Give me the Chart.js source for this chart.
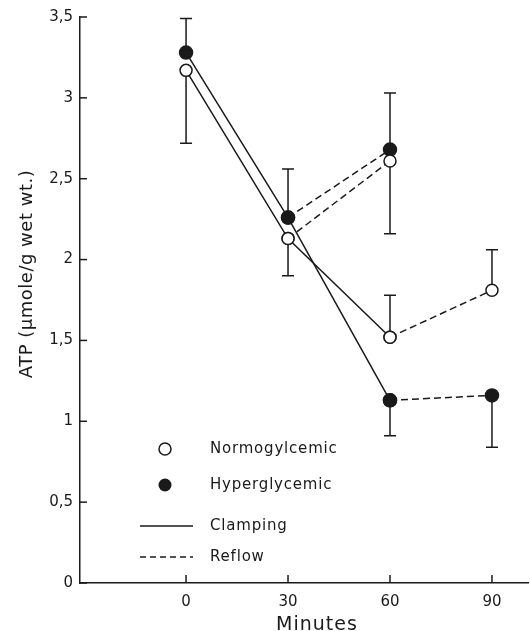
<!DOCTYPE html>
<html>
<head>
<meta charset="utf-8">
<script src="https://cdn.jsdelivr.net/npm/chart.js@4"></script>
<style>
  body { margin: 0; background: #fff; }
  #wrap { width: 530px; height: 631px; position: relative; }
</style>
</head>
<body>
<div id="wrap"><canvas id="myChart"></canvas></div>
<script>
// ATP levels, clamping vs reflow
const xTicks = [0, 30, 60, 90];
const yTicks = [0, 0.5, 1, 1.5, 2, 2.5, 3, 3.5];

const clampMinutes = [0, 30, 60];
const normoClamp = [3.17, 2.13, 1.52];
const hyperClamp = [3.28, 2.26, 1.13];

const reflowEarlyMinutes = [30, 60];
const normoReflowEarly = [2.13, 2.61];
const hyperReflowEarly = [2.26, 2.68];

const reflowLateMinutes = [60, 90];
const normoReflowLate = [1.52, 1.81];
const hyperReflowLate = [1.13, 1.16];

// one-sided error bars (from mean to end of bar)
const errMinutes = [0, 0, 30, 30, 60, 60, 60, 60, 90, 90];
const errFrom = [3.28, 3.17, 2.26, 2.13, 2.68, 2.61, 1.52, 1.13, 1.81, 1.16];
const errTo = [3.49, 2.72, 2.56, 1.90, 3.03, 2.16, 1.78, 0.91, 2.06, 0.84];

const legendLabels = ["Normogylcemic", "Hyperglycemic", "Clamping", "Reflow"];
const xTitle = "Minutes";
const yTitle = "ATP (\u00b5mole/g wet wt.)";

const FONT = "'DejaVu Sans', sans-serif";
const INK = "#1a1a1a";

function pts(xs, ys) {
    return xs.map((x, i) => ({ x: x, y: ys[i] }));
}

function series(xs, ys, filled, dashed) {
    return {
        data: pts(xs, ys),
        showLine: true,
        borderColor: INK,
        borderWidth: 1.5,
        borderDash: dashed ? [7, 4] : [],
        pointRadius: filled ? 6.5 : 6,
        pointBorderWidth: 1.5,
        pointBorderColor: INK,
        pointBackgroundColor: filled ? INK : "#fff",
        fill: false
    };
}

const extras = {
    id: "extras",
    beforeDatasetsDraw(chart) {
        const ctx = chart.ctx;
        const xs = chart.scales.x, ys = chart.scales.y;
        ctx.save();
        ctx.strokeStyle = INK;
        ctx.lineWidth = 1.5;
        errMinutes.forEach((m, i) => {
            const px = xs.getPixelForValue(m);
            const y1 = ys.getPixelForValue(errFrom[i]);
            const y2 = ys.getPixelForValue(errTo[i]);
            ctx.beginPath();
            ctx.moveTo(px, y1);
            ctx.lineTo(px, y2);
            ctx.moveTo(px - 6, y2);
            ctx.lineTo(px + 6, y2);
            ctx.stroke();
        });
        ctx.restore();
    },
    afterDraw(chart) {
        const ctx = chart.ctx;
        const area = chart.chartArea;
        const xs = chart.scales.x, ys = chart.scales.y;
        ctx.save();
        ctx.strokeStyle = INK;
        ctx.fillStyle = INK;
        ctx.lineWidth = 1.5;

        // inward tick marks
        yTicks.forEach(v => {
            const py = ys.getPixelForValue(v);
            ctx.beginPath();
            ctx.moveTo(area.left, py);
            ctx.lineTo(area.left + 7, py);
            ctx.stroke();
        });
        xTicks.forEach(v => {
            const px = xs.getPixelForValue(v);
            ctx.beginPath();
            ctx.moveTo(px, area.bottom);
            ctx.lineTo(px, area.bottom - 8);
            ctx.stroke();
        });

        // axis titles
        ctx.font = "19px " + FONT;
        ctx.textAlign = "center";
        ctx.textBaseline = "alphabetic";
        ctx.letterSpacing = "1px";
        ctx.fillText(xTitle, 317, 630);

        ctx.save();
        ctx.translate(27, 274);
        ctx.rotate(-Math.PI / 2);
        ctx.font = "18px " + FONT;
        ctx.textBaseline = "middle";
        ctx.letterSpacing = "0.5px";
        ctx.fillText(yTitle, 0, 0);
        ctx.restore();

        // legend inside the plot
        const symX = area.left + 85;
        const txtX = area.left + 130;
        const rows = [area.bottom - 134, area.bottom - 98, area.bottom - 57, area.bottom - 26];
        ctx.font = "15px " + FONT;
        ctx.textAlign = "left";
        ctx.textBaseline = "middle";
        ctx.letterSpacing = "0.8px";
        legendLabels.forEach((t, i) => ctx.fillText(t, txtX, rows[i]));

        ctx.beginPath();
        ctx.arc(symX, rows[0], 6, 0, Math.PI * 2);
        ctx.fillStyle = "#fff";
        ctx.fill();
        ctx.stroke();
        ctx.beginPath();
        ctx.arc(symX, rows[1], 6.5, 0, Math.PI * 2);
        ctx.fillStyle = INK;
        ctx.fill();

        ctx.beginPath();
        ctx.moveTo(symX - 25, rows[2]);
        ctx.lineTo(symX + 28, rows[2]);
        ctx.stroke();
        ctx.setLineDash([6, 4]);
        ctx.beginPath();
        ctx.moveTo(symX - 25, rows[3]);
        ctx.lineTo(symX + 28, rows[3]);
        ctx.stroke();
        ctx.restore();
    }
};

const ctx = document.getElementById('myChart');

new Chart(ctx, {
    type: "scatter",
    data: {
        datasets: [
            series(clampMinutes, normoClamp, false, false),
            series(clampMinutes, hyperClamp, true, false),
            series(reflowEarlyMinutes, normoReflowEarly, false, true),
            series(reflowEarlyMinutes, hyperReflowEarly, true, true),
            series(reflowLateMinutes, normoReflowLate, false, true),
            series(reflowLateMinutes, hyperReflowLate, true, true)
        ]
    },
    options: {
        responsive: true,
        maintainAspectRatio: false,
        animation: false,
        layout: { autoPadding: false, padding: { top: 17, right: 2, left: 0, bottom: 0 } },
        plugins: {
            legend: { display: false },
            tooltip: { enabled: false }
        },
        scales: {
            x: {
                type: "linear",
                min: -31.2,
                max: 100.6,
                afterBuildTicks: s => { s.ticks = xTicks.map(v => ({ value: v })); },
                afterFit: s => { s.height = 48; },
                grid: { display: true, drawOnChartArea: false, drawTicks: false },
                border: { display: true, color: INK, width: 1.5 },
                ticks: {
                    padding: 10,
                    color: INK,
                    font: { family: FONT, size: 15 }
                }
            },
            y: {
                min: 0,
                max: 3.5,
                afterBuildTicks: s => { s.ticks = yTicks.map(v => ({ value: v })); },
                afterFit: s => { s.width = 80; },
                grid: { display: true, drawOnChartArea: false, drawTicks: false },
                border: { display: true, color: INK, width: 1.5 },
                ticks: {
                    padding: 7,
                    color: INK,
                    font: { family: FONT, size: 15 },
                    callback: v => String(v).replace(".", ",")
                }
            }
        }
    },
    plugins: [extras]
});
</script>
</body>
</html>
